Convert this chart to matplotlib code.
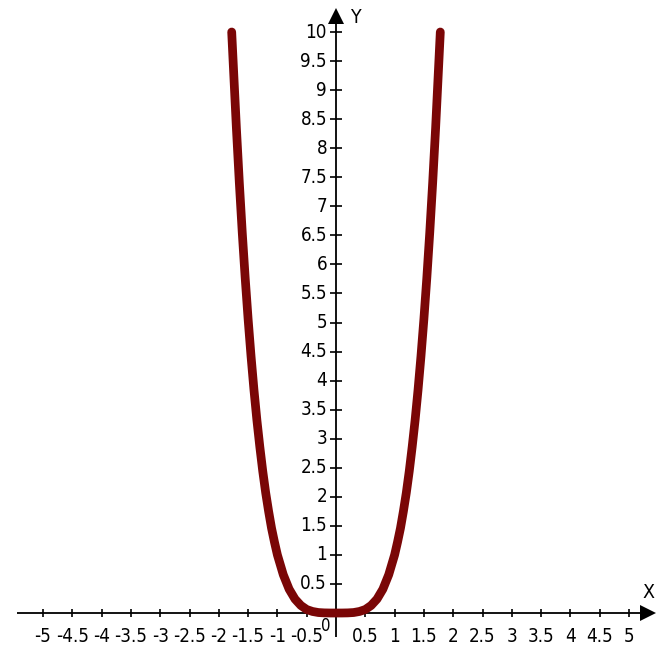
import matplotlib
matplotlib.use("Agg")
import matplotlib.pyplot as plt
from matplotlib import font_manager

# Points
x_vals = [-1.78, -1.75, -1.70, -1.65, -1.60, -1.55, -1.50, -1.45, -1.40, -1.35, -1.30, -1.25,
          -1.20, -1.15, -1.10, -1.05, -1.00, -0.90, -0.80, -0.70, -0.60, -0.50, -0.40, -0.30,
          -0.20, -0.10, 0.00, 0.10, 0.20, 0.30, 0.40, 0.50, 0.60, 0.70, 0.80, 0.90, 1.00,
          1.05, 1.10, 1.15, 1.20, 1.25, 1.30, 1.35, 1.40, 1.45, 1.50, 1.55, 1.60, 1.65,
          1.70, 1.75, 1.78]
y_vals = [10.0, 9.38, 8.35, 7.41, 6.55, 5.77, 5.06, 4.42, 3.84, 3.32, 2.86, 2.44,
          2.07, 1.75, 1.46, 1.22, 1.00, 0.66, 0.41, 0.24, 0.13, 0.06, 0.026, 0.008,
          0.002, 0.0, 0.0, 0.0, 0.002, 0.008, 0.026, 0.06, 0.13, 0.24, 0.41, 0.66, 1.00,
          1.22, 1.46, 1.75, 2.07, 2.44, 2.86, 3.32, 3.84, 4.42, 5.06, 5.77, 6.55, 7.41,
          8.35, 9.38, 10.0]

x_ticks = [-5, -4.5, -4, -3.5, -3, -2.5, -2, -1.5, -1, -0.5, 0.5, 1, 1.5, 2, 2.5, 3, 3.5, 4, 4.5, 5]
y_ticks = [0.5, 1, 1.5, 2, 2.5, 3, 3.5, 4, 4.5, 5, 5.5, 6, 6.5, 7, 7.5, 8, 8.5, 9, 9.5, 10]

def fmt(v):
    return ("%g" % v)

fonts = font_manager.fontManager.ttflist
names = {f.name for f in fonts}
stretch = 'normal'
if "Liberation Sans Narrow" in names:
    fam = "Liberation Sans Narrow"
elif any(f.name == "DejaVu Sans" and str(f.stretch) in ('condensed', 'semi-condensed', '87.5', '75')
         for f in fonts):
    fam = "DejaVu Sans"
    stretch = 'condensed'
else:
    fam = "Liberation Sans"
plt.rcParams['font.family'] = [fam, 'DejaVu Sans']
TK = dict(fontstretch=stretch)

W, H = 668, 646
fig = plt.figure(figsize=(W / 100, H / 100), dpi=100)
ax = fig.add_axes([0, 0, 1, 1])
ox, oy, sx, sy = 336, 613, 58.6, 58.1
ax.set_xlim(-ox / sx, (W - ox) / sx)
ax.set_ylim(-(H - oy) / sy, oy / sy)
ax.axis('off')

# axes lines
ax.plot([(17 - ox) / sx, (645 - ox) / sx], [0, 0], color='black', lw=1.3, solid_capstyle='butt')
ax.plot([0, 0], [-(637 - oy) / sy, (oy - 15) / sy], color='black', lw=1.3, solid_capstyle='butt')
# arrowheads
ax.plot([(648 - ox) / sx], [0], marker='>', color='black', markersize=11, markeredgewidth=0)
ax.plot([0], [(oy - 16) / sy], marker='^', color='black', markersize=11, markeredgewidth=0)
ax.text((648 - ox) / sx, (oy - 593) / sy, "X", fontsize=14, ha='center', va='center', **TK)
ax.text((355 - ox) / sx, (oy - 17) / sy, "Y", fontsize=14, ha='center', va='center', **TK)

# ticks
ax.plot(x_ticks, [0] * len(x_ticks), linestyle='none', marker='|', color='black',
        markersize=6, markeredgewidth=1.2)
ax.plot([0] * len(y_ticks), y_ticks, linestyle='none', marker='_', color='black',
        markersize=8, markeredgewidth=1.2)

for v in x_ticks:
    ax.text(v, -(636 - oy) / sy, fmt(v), fontsize=13.5, ha='center', va='center', **TK)
for v in y_ticks:
    ax.text(-(9) / sx, v, fmt(v), fontsize=13.5, ha='right', va='center', **TK)
ax.text(-(5) / sx, -(626 - oy) / sy, "0", fontsize=12, ha='right', va='center', **TK)

ax.plot(x_vals, y_vals, color='#7a0606', lw=6.3, solid_capstyle='round', solid_joinstyle='round')

fig.savefig("out.png", dpi=100, facecolor='white')
